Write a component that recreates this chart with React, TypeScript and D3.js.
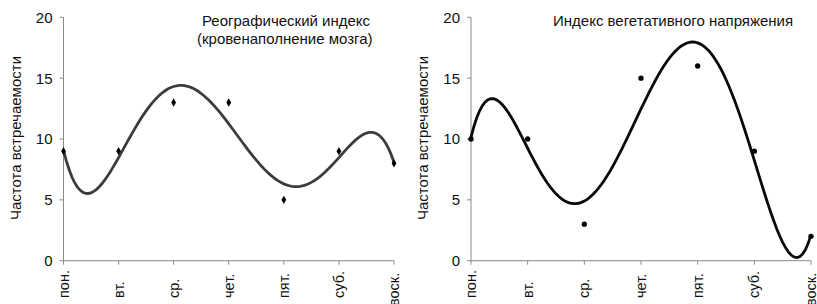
import { useEffect, useRef } from 'react';
import * as d3 from 'd3';

const days = ['пон.', 'вт.', 'ср.', 'чет.', 'пят.', 'суб.', 'воск.'];
const rheoValues = [9, 9, 13, 13, 5, 9, 8];
const vegetValues = [10, 10, 3, 15, 16, 9, 2];
const yTicks = [0, 5, 10, 15, 20];
const yLabel = 'Частота встречаемости';
const rheoTitle = ['Реографический индекс', '(кровенаполнение мозга)'];
const vegetTitle = ['Индекс вегетативного напряжения'];

// least squares polynomial (Excel-like trendline)
function polyFit(ys: number[], degree: number) {
    const n = degree + 1;
    const A: number[][] = [];
    for (let r = 0; r < n; r++) {
        const row: number[] = [];
        for (let c = 0; c < n; c++) {
            let s = 0;
            ys.forEach((_, i) => { s += Math.pow(i, r + c); });
            row.push(s);
        }
        let b = 0;
        ys.forEach((y, i) => { b += y * Math.pow(i, r); });
        row.push(b);
        A.push(row);
    }
    for (let k = 0; k < n; k++) {
        let p = k;
        for (let r = k + 1; r < n; r++) if (Math.abs(A[r][k]) > Math.abs(A[p][k])) p = r;
        [A[k], A[p]] = [A[p], A[k]];
        for (let r = 0; r < n; r++) {
            if (r === k) continue;
            const f = A[r][k] / A[k][k];
            for (let c = k; c <= n; c++) A[r][c] -= f * A[k][c];
        }
    }
    const coef = A.map((row, i) => row[n] / row[i]);
    return (x: number) => coef.reduce((s, c, i) => s + c * Math.pow(x, i), 0);
}

export default function App() {
    const svgRef = useRef<SVGSVGElement>(null);

    useEffect(() => {
        if (!svgRef.current) return;
        const svg = d3.select(svgRef.current);
        svg.selectAll('*').remove();

        function panel(x0: number, x1: number, values: number[], title: string[], titleX: number, marker: 'diamond' | 'circle', lineColor: string) {
            const x = d3.scaleLinear().domain([0, days.length - 1]).range([x0, x1]);
            const y = d3.scaleLinear().domain([0, 20]).range([260.7, 17.3]);
            const g = svg.append('g');
            const axisColor = '#8a8a8a';

            // y axis
            g.append('line').attr('x1', x0).attr('x2', x0).attr('y1', y(20)).attr('y2', y(0))
                .attr('stroke', axisColor).attr('stroke-width', 1);
            yTicks.forEach(t => {
                g.append('line').attr('x1', x0 - 4).attr('x2', x0).attr('y1', y(t)).attr('y2', y(t))
                    .attr('stroke', axisColor);
                g.append('text').attr('x', x0 - 11).attr('y', y(t)).attr('dy', '0.36em')
                    .attr('text-anchor', 'end').attr('font-size', 15).attr('fill', '#111').text(t);
            });

            // x axis
            g.append('line').attr('x1', x0).attr('x2', x1).attr('y1', y(0)).attr('y2', y(0))
                .attr('stroke', axisColor);
            days.forEach((d, i) => {
                g.append('line').attr('x1', x(i)).attr('x2', x(i)).attr('y1', y(0)).attr('y2', y(0) + 4)
                    .attr('stroke', axisColor);
                g.append('text')
                    .attr('transform', `translate(${x(i) + 5},${i === days.length - 1 ? 306 : 298}) rotate(-90)`)
                    .attr('text-anchor', 'start').attr('font-size', 14.5).attr('fill', '#111').text(d);
            });

            g.append('text')
                .attr('transform', `translate(${x0 - 43},${(y(0) + y(20)) / 2 - 1}) rotate(-90)`)
                .attr('text-anchor', 'middle').attr('font-size', 15).attr('fill', '#111').text(yLabel);

            title.forEach((t, i) => {
                g.append('text').attr('x', titleX - (i ? 5 : 0)).attr('y', 26 + i * 18)
                    .attr('font-size', 15).attr('fill', '#111').text(t);
            });

            // trendline
            const f = polyFit(values, 5);
            const xs = d3.range(0, 6.0001, 0.05);
            const line = d3.line<number>().x(v => x(v)).y(v => y(f(v))).curve(d3.curveLinear);
            g.append('path').attr('d', line(xs)).attr('fill', 'none')
                .attr('stroke', lineColor).attr('stroke-width', 2.8);

            const sym = d3.symbol().type(marker === 'diamond' ? d3.symbolDiamond : d3.symbolCircle)
                .size(marker === 'diamond' ? 20 : 22);
            values.forEach((v, i) => {
                g.append('path').attr('d', sym()).attr('transform', `translate(${x(i)},${y(v)})`)
                    .attr('fill', '#000');
            });
        }

        panel(63.5, 394, rheoValues, rheoTitle, 202, 'diamond', '#3c3c3c');
        panel(471, 811, vegetValues, vegetTitle, 553, 'circle', '#0a0a0a');
    }, []);

    return (
        <svg ref={svgRef} width={817} height={304}
            style={{ position: 'absolute', left: 0, top: 0, background: '#fff', fontFamily: 'Liberation Sans, Arial, sans-serif' }} />
    );
}
